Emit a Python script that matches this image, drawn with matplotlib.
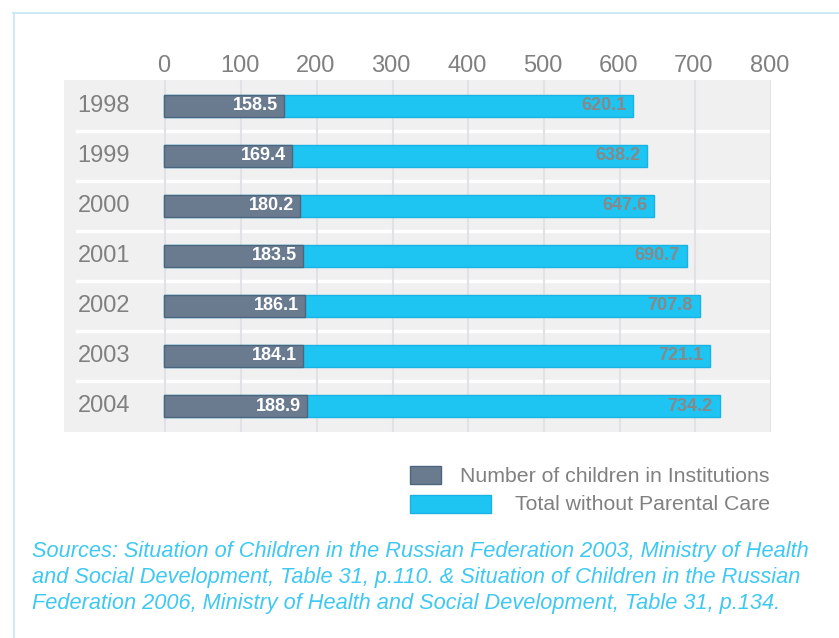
import matplotlib.pyplot as plt
from matplotlib.patches import Rectangle
from matplotlib.lines import Line2D

plt.rcParams['font.family'] = ['Liberation Sans', 'DejaVu Sans']

years = ['1998', '1999', '2000', '2001', '2002', '2003', '2004']
institutions = [158.5, 169.4, 180.2, 183.5, 186.1, 184.1, 188.9]
total = [620.1, 638.2, 647.6, 690.7, 707.8, 721.1, 734.2]
ticks = [0, 100, 200, 300, 400, 500, 600, 700, 800]

dark = '#6a7a8f'
cyan = '#1ec5f2'
grey_txt = '#808080'

fig = plt.figure(figsize=(8.39, 6.38), dpi=100)
ax = fig.add_axes([64 / 839, 1 - 432 / 638, 707 / 839, 352 / 638])
ax.set_facecolor('#f0f0f0')

ys = range(len(years))
ax.barh(ys, total, height=0.44, color=cyan, edgecolor='#19b2e4', linewidth=1, zorder=2)
ax.barh(ys, institutions, height=0.44, color=dark, edgecolor='#4d6680', linewidth=1, zorder=3)

for i, (yr, a, t) in enumerate(zip(years, institutions, total)):
    ax.text(-114, i, yr, ha='left', va='center', fontsize=17, color=grey_txt)
    ax.text(a - 8, i, f'{a:.1f}', ha='right', va='center', fontsize=13,
            fontweight='bold', color='white', zorder=4)
    ax.text(t - 9, i, f'{t:.1f}', ha='right', va='center', fontsize=13,
            fontweight='bold', color='#888888', zorder=4)

# white separators between the rows
for i in range(len(years) - 1):
    ax.plot([-115, 802], [i + 0.5, i + 0.5], color='white', lw=2.5, zorder=0.5)

for t in ticks:
    ax.axvline(t + 2, color='#e2e2e6', lw=1.5, zorder=0.8)

ax.set_xlim(-132, 802)
ax.set_ylim(len(years) - 0.48, -0.52)
ax.set_xticks(ticks)
ax.set_yticks([])
ax.xaxis.tick_top()
ax.tick_params(axis='x', length=0, pad=2, labelsize=17, labelcolor=grey_txt)
for s in ax.spines.values():
    s.set_visible(False)

# legend built by hand: right-aligned labels, different swatch widths
fig.patches.append(Rectangle((410 / 839, 1 - 484 / 638), 31 / 839, 18 / 638,
                             transform=fig.transFigure, facecolor=dark,
                             edgecolor='#4d6680', lw=1))
fig.patches.append(Rectangle((410 / 839, 1 - 513 / 638), 81 / 839, 18 / 638,
                             transform=fig.transFigure, facecolor=cyan,
                             edgecolor='#19b2e4', lw=1))
fig.text(770 / 839, 1 - 476 / 638, 'Number of children in Institutions',
         ha='right', va='center', fontsize=15.3, color=grey_txt)
fig.text(770 / 839, 1 - 505 / 638, 'Total without Parental Care',
         ha='right', va='center', fontsize=15.3, color=grey_txt)

src = ('Sources: Situation of Children in the Russian Federation 2003, Ministry of Health\n'
       'and Social Development, Table 31, p.110. & Situation of Children in the Russian\n'
       'Federation 2006, Ministry of Health and Social Development, Table 31, p.134.')
fig.text(32 / 839, 1 - 541 / 638, src, ha='left', va='top', fontsize=15.7,
         style='italic', color='#3ec8f2', linespacing=1.3)

# thin frame at top and left
fig.add_artist(Line2D([13 / 839, 1], [1 - 12.5 / 638, 1 - 12.5 / 638],
                      transform=fig.transFigure, color='#c4e6f5', lw=1.2))
fig.add_artist(Line2D([13.5 / 839, 13.5 / 839], [0, 1 - 12.5 / 638],
                      transform=fig.transFigure, color='#c4e6f5', lw=1.2))

fig.savefig('out.png', dpi=100)
